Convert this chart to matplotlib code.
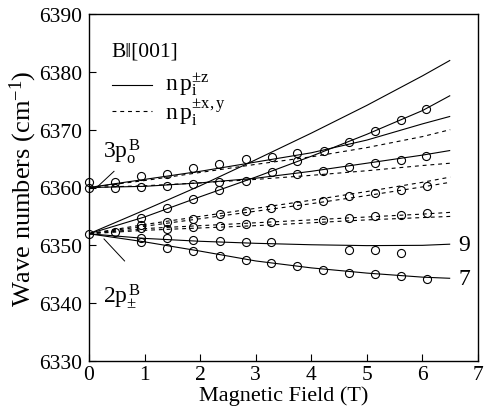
import matplotlib
matplotlib.use("Agg")
import matplotlib.pyplot as plt

plt.rcParams['font.family'] = ['Liberation Serif', 'DejaVu Serif']
plt.rcParams['mathtext.fontset'] = 'custom'
plt.rcParams['mathtext.rm'] = 'Liberation Serif'
plt.rcParams['mathtext.it'] = 'Liberation Serif'

# ---- data -------------------------------------------------------------
field_grid = [0, 1, 2, 3, 4, 5, 6, 6.5]

# theory, np_i^{+-z} (solid)
solid_A = [6352.0, 6356.1, 6360.3, 6364.8, 6369.4, 6374.2, 6379.3, 6382.0]
solid_B = [6352.0, 6354.9, 6358.4, 6361.8, 6365.4, 6369.2, 6373.3, 6375.9]
solid_C = [6360.0, 6361.4, 6362.8, 6364.4, 6366.0, 6368.2, 6371.0, 6372.3]
solid_E = [6360.0, 6360.2, 6360.8, 6361.6, 6362.8, 6364.2, 6365.6, 6366.4]
solid_9 = [6352.0, 6351.2, 6350.7, 6350.35, 6350.1, 6349.95, 6350.0, 6350.2]
solid_7 = [6352.0, 6350.6, 6349.0, 6347.3, 6346.1, 6345.2, 6344.5, 6344.3]

# theory, np_i^{+-x,y} (dashed)
dash_C = [6360.0, 6361.2, 6362.6, 6364.0, 6365.3, 6366.9, 6368.8, 6370.0]
dash_E = [6360.0, 6360.3, 6360.8, 6361.4, 6362.1, 6362.9, 6363.8, 6364.2]
dash_1 = [6352.0, 6353.6, 6355.0, 6356.4, 6357.8, 6359.3, 6360.9, 6361.8]
dash_2 = [6352.0, 6353.3, 6354.6, 6355.9, 6357.2, 6358.6, 6360.1, 6360.9]
dash_3 = [6352.0, 6352.9, 6353.4, 6353.9, 6354.4, 6354.9, 6355.4, 6355.7]
dash_4 = [6352.0, 6352.6, 6353.0, 6353.4, 6353.9, 6354.4, 6354.8, 6355.0]

# experimental points (open circles)
exp_field = [
    0, 0, 0,
    0.47, 0.94, 1.40, 1.88, 2.34, 2.82, 3.29, 3.74, 4.23,
    0.94, 1.40, 1.88, 2.34, 2.82, 3.29, 3.74, 4.68, 5.14, 5.61, 6.07,
    0.47, 0.94, 1.40, 1.88, 2.34, 3.74, 4.21, 4.68, 5.14, 5.61, 6.07,
    0.94, 1.40, 1.88, 2.36, 2.82, 3.28, 3.75, 4.21, 4.68, 5.14, 5.61, 6.08,
    0.94, 1.40, 1.88, 2.36, 2.82, 3.28, 4.21, 4.68, 5.14, 5.61, 6.08,
    0.94, 1.40, 1.88, 2.36, 2.82, 3.28, 4.68, 5.14, 5.61,
    0.47, 0.94, 1.40, 1.88, 2.36, 2.82, 3.28, 3.75, 4.21, 4.68, 5.14, 5.61, 6.08,
]
exp_wave = [
    6361.0, 6359.9, 6352.0,
    6361.0, 6362.0, 6362.4, 6363.3, 6364.1, 6364.9, 6365.3, 6366.0, 6366.3,
    6354.7, 6356.4, 6358.0, 6359.5, 6361.2, 6362.6, 6364.5, 6367.9, 6369.8, 6371.7, 6373.6,
    6359.9, 6360.05, 6360.3, 6360.6, 6361.0, 6362.3, 6362.9, 6363.5, 6364.3, 6364.8, 6365.4,
    6353.6, 6354.1, 6354.6, 6355.4, 6356.0, 6356.5, 6357.0, 6357.6, 6358.5, 6359.1, 6359.6, 6360.3,
    6353.0, 6352.9, 6353.1, 6353.4, 6353.7, 6354.0, 6354.4, 6354.8, 6355.0, 6355.3, 6355.6,
    6351.3, 6351.2, 6350.9, 6350.7, 6350.65, 6350.65, 6349.2, 6349.2, 6348.6,
    6352.3, 6350.6, 6349.6, 6349.0, 6348.2, 6347.5, 6346.9, 6346.4, 6345.8, 6345.3, 6345.0, 6344.65, 6344.2,
]

x_ticks = [0, 1, 2, 3, 4, 5, 6, 7]
y_ticks = [6330, 6340, 6350, 6360, 6370, 6380, 6390]

# ---- figure -------------------------------------------------------------
fig = plt.figure(figsize=(4.87, 4.10), dpi=100)
ax = fig.add_axes([89 / 487, 48 / 410, 389 / 487, 347 / 410])

lw = 0.8
for ys in [solid_A, solid_B, solid_C, solid_E, solid_9, solid_7]:
    ax.plot(field_grid, ys, color='black', lw=lw, solid_capstyle='butt')
for ys in [dash_C, dash_E, dash_1, dash_2, dash_3, dash_4]:
    ax.plot(field_grid, ys, color='black', lw=lw, dashes=(3.5, 3.5))

ax.plot(exp_field, exp_wave, linestyle='none', marker='o', markersize=5.8,
        markerfacecolor='none', markeredgecolor='black', markeredgewidth=0.8,
        clip_on=False)

ax.set_xlim(0, 7)
ax.set_ylim(6330, 6390)
ax.set_xticks(x_ticks)
ax.set_yticks(y_ticks)
ax.tick_params(direction='in', length=5, width=0.8, labelsize=15.5)
ax.tick_params(axis='x', pad=3)
ax.tick_params(axis='y', pad=5)
for s in ax.spines.values():
    s.set_linewidth(1.0)

ax.set_xlabel('Magnetic Field (T)', fontsize=16, labelpad=1)
ax.set_ylabel('Wave numbers (cm$^{\\mathregular{-1}}$)', fontsize=19, labelpad=0)

# legend (drawn manually)
ax.plot([0.42, 1.14], [6377.8, 6377.8], color='black', lw=lw)
ax.plot([0.42, 1.14], [6373.2, 6373.2], color='black', lw=lw, dashes=(3.5, 3.5))
ax.text(1.36, 6377.8, r'$\mathrm{n\,p_i^{\pm z}}$', fontsize=17, va='center', ha='left')
ax.text(1.36, 6373.2, r'$\mathrm{n\,p_i^{\pm x,y}}$', fontsize=17, va='center', ha='left')

ax.text(0.4, 6383.6, 'B\u2016[001]', fontsize=15.5, va='center', ha='left')

# state labels with leader lines
ax.text(0.25, 6366.4, r'$\mathrm{3p_o^{\,B}}$', fontsize=17, va='center', ha='left')
ax.plot([0.45, 0.16], [6362.8, 6360.2], color='black', lw=0.7)
ax.text(0.25, 6341.3, r'$\mathrm{2p_{\pm}^{\,B}}$', fontsize=17, va='center', ha='left')
ax.plot([0.27, 0.64], [6351.1, 6347.3], color='black', lw=0.7)

ax.text(6.65, 6350.2, '9', fontsize=17, va='center', ha='left')
ax.text(6.65, 6344.3, '7', fontsize=17, va='center', ha='left')

fig.savefig('out.png', dpi=100)
